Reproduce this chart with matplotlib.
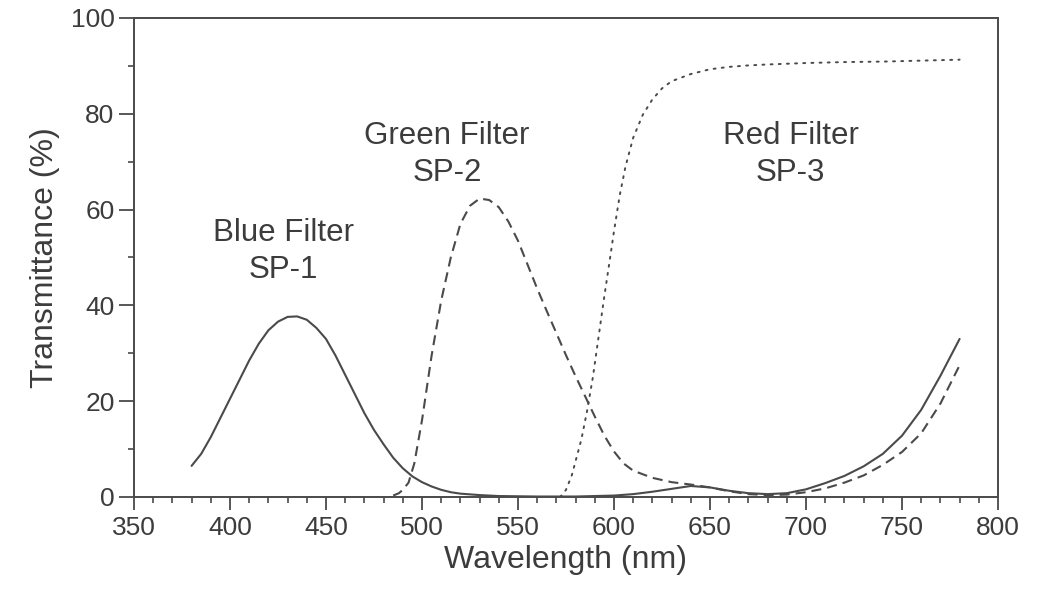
"""
Transmittance spectra of the three colour filters (SP-1, SP-2, SP-3).
"""
import numpy as np
import matplotlib.pyplot as plt
from matplotlib.ticker import MultipleLocator

plt.rcParams["font.family"] = ["Liberation Sans", "DejaVu Sans"]

INK = "#4a4a4a"
TEXT = "#3c3c3c"

# Blue filter SP-1 (solid)
blue_nm = [380, 385, 390, 395, 400, 405, 410, 415, 420, 425, 430, 435, 440, 445,
           450, 455, 460, 465, 470, 475, 480, 485, 490, 495, 500, 505, 510, 515,
           520, 530, 540, 560, 580, 600, 610, 620, 630, 640, 650, 660, 670, 680,
           690, 700, 710, 720, 730, 740, 750, 760, 770, 780]
blue_t = [6.5, 9.0, 12.5, 16.5, 20.5, 24.5, 28.5, 32.0, 34.8, 36.6, 37.6, 37.7,
          37.0, 35.3, 33.0, 29.5, 25.5, 21.5, 17.5, 14.0, 11.0, 8.2, 6.0, 4.3,
          3.1, 2.2, 1.5, 1.0, 0.7, 0.4, 0.2, 0.1, 0.1, 0.3, 0.6, 1.1, 1.7, 2.3,
          2.0, 1.3, 0.8, 0.6, 0.8, 1.6, 2.9, 4.4, 6.4, 9.0, 12.8, 18.2, 25.3, 33.0]

# Green filter SP-2 (dashed)
green_nm = [485, 488, 490, 493, 496, 500, 505, 510, 515, 520, 525, 530, 535, 540,
            545, 550, 555, 560, 565, 570, 575, 580, 585, 590, 595, 600, 605, 610,
            620, 630, 640, 650, 660, 670, 680, 690, 700, 710, 720, 730, 740, 750,
            760, 770, 780]
green_t = [0.3, 0.8, 1.5, 3.0, 7.0, 16.0, 29.5, 41.0, 50.0, 57.0, 60.8, 62.3,
           62.0, 60.5, 57.5, 53.5, 48.5, 43.5, 38.8, 34.2, 29.6, 25.2, 21.0,
           16.8, 12.8, 9.5, 7.0, 5.5, 4.0, 3.1, 2.6, 2.0, 1.2, 0.6, 0.4, 0.5,
           1.0, 1.8, 3.0, 4.5, 6.7, 9.4, 13.3, 19.5, 27.5]

# Red filter SP-3 (dotted)
red_nm = [572, 575, 578, 580, 583, 586, 589, 592, 595, 598, 600, 603, 606, 610,
          615, 620, 625, 630, 640, 650, 660, 670, 680, 700, 720, 740, 760, 780]
red_t = [0.0, 1.5, 4.5, 7.5, 12.0, 18.0, 25.0, 33.5, 42.0, 50.0, 55.5, 63.0,
         69.0, 75.0, 79.8, 83.0, 85.3, 86.8, 88.3, 89.3, 89.8, 90.1, 90.3, 90.6,
         90.8, 90.9, 91.1, 91.3]

labels = ["Blue Filter\nSP-1", "Green Filter\nSP-2", "Red Filter\nSP-3"]
label_pos = [(428, 51.2), (513, 71.5), (692, 71.5)]

fig = plt.figure(figsize=(10.41, 5.94), dpi=100)
ax = fig.add_axes([0.1287, 0.1633, 0.8300, 0.8064])

ax.plot(blue_nm, blue_t, color=INK, lw=1.5, solid_capstyle="round")
ax.plot(green_nm, green_t, color=INK, lw=1.5, dashes=(4.8, 2.9))
ax.plot(red_nm, red_t, color=INK, lw=1.4, dashes=(1.0, 3.2),
        dash_capstyle="round")

for txt, (x, y) in zip(labels, label_pos):
    ax.text(x, y, txt, ha="center", va="center", fontsize=22.5, color=TEXT,
            linespacing=1.3)

ax.set_xlim(350, 800)
ax.set_ylim(0, 100)
ax.xaxis.set_major_locator(MultipleLocator(50))
ax.xaxis.set_minor_locator(MultipleLocator(10))
ax.yaxis.set_major_locator(MultipleLocator(20))
ax.yaxis.set_minor_locator(MultipleLocator(10))

ax.tick_params(axis="x", which="major", direction="out", length=9.5, width=1.3,
               color=INK, labelsize=19, labelcolor=TEXT, pad=4)
ax.tick_params(axis="x", which="minor", direction="out", length=4, width=1.2,
               color=INK)
ax.tick_params(axis="y", which="major", direction="out", length=11, width=1.3,
               color=INK, labelsize=19, labelcolor=TEXT, pad=3)
ax.tick_params(axis="y", which="minor", direction="out", length=4, width=1.2,
               color=INK)

for s in ax.spines.values():
    s.set_color(INK)
    s.set_linewidth(1.4)

ax.set_xlabel("Wavelength (nm)", fontsize=23, color=TEXT, labelpad=4)
ax.set_ylabel("Transmittance (%)", fontsize=23, color=TEXT, labelpad=8)

fig.savefig("out.png", dpi=100)
